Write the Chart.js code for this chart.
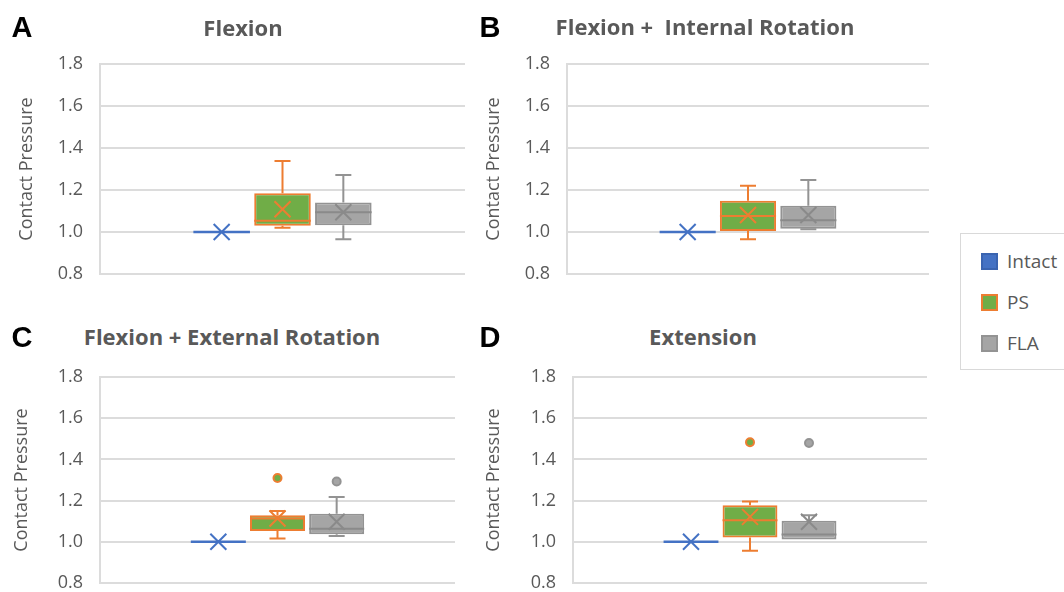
<!DOCTYPE html>
<html>
<head>
<meta charset="utf-8">
<script src="https://cdn.jsdelivr.net/npm/chart.js@4.4.1/dist/chart.umd.min.js"></script>
<style>
  html, body { margin: 0; padding: 0; background: #ffffff; overflow: hidden; }
  body { width: 1064px; height: 592px; position: relative; font-family: "Open Sans", "DejaVu Sans", sans-serif; }
  .panel { position: absolute; }
  .title { position: absolute; transform: translate(-50%, -50%); font-weight: 700; font-size: 22px; color: #595959; white-space: pre; }
  .letter { position: absolute; transform: translate(-50%, -50%); font-family: "Liberation Sans", Arial, sans-serif; font-weight: 700; font-size: 29px; color: #000; }
  #legend { position: absolute; left: 960px; top: 233px; width: 130px; height: 137px; border: 1px solid #d9d9d9; box-sizing: border-box; }
  .item { position: absolute; left: 20px; height: 20px; display: flex; align-items: center; font-size: 19px; color: #595959; }
  .sw { width: 17px; height: 17px; margin-right: 9px; box-sizing: border-box; border: 2px solid; }
</style>
</head>
<body>
<script>
// ---- data ----
const categories = ['Intact', 'PS', 'FLA'];
const panelTitles = ['Flexion', 'Flexion +  Internal Rotation', 'Flexion + External Rotation', 'Extension'];
const panelLetters = ['A', 'B', 'C', 'D'];
const yTicks = [0.8, 1.0, 1.2, 1.4, 1.6, 1.8];
const yAxisTitle = 'Contact Pressure';

const intactMin    = [1.0, 1.0, 1.0, 1.0];
const intactQ1     = [1.0, 1.0, 1.0, 1.0];
const intactMedian = [1.0, 1.0, 1.0, 1.0];
const intactQ3     = [1.0, 1.0, 1.0, 1.0];
const intactMax    = [1.0, 1.0, 1.0, 1.0];
const intactMean   = [1.0, 1.0, 1.0, 1.0];
const intactOutliers = [[], [], [], []];

const psMin    = [1.020, 0.965, 1.016, 0.956];
const psQ1     = [1.030, 1.005, 1.053, 1.021];
const psMedian = [1.054, 1.076, 1.113, 1.105];
const psQ3     = [1.184, 1.149, 1.129, 1.178];
const psMax    = [1.338, 1.220, 1.150, 1.196];
const psMean   = [1.108, 1.081, 1.113, 1.121];
const psOutliers = [[], [], [1.310], [1.483]];

const flaMin    = [0.965, 1.013, 1.028, 1.011];
const flaQ1     = [1.032, 1.016, 1.037, 1.011];
const flaMedian = [1.094, 1.056, 1.063, 1.036];
const flaQ3     = [1.140, 1.125, 1.136, 1.102];
const flaMax    = [1.271, 1.248, 1.217, 1.129];
const flaMean   = [1.094, 1.081, 1.097, 1.097];
const flaOutliers = [[], [], [1.293], [1.480]];

// ---- styles ----
const colIntact = '#4472C4';
const psFill = '#70AD47', psLine = '#ED7D31';
const flaFill = '#A5A5A5', flaLine = '#939393', flaMark = '#8a8a8a';
const textCol = '#595959';
const gridCol = '#dcdcdc';

// layout of each panel: canvas box
const layout = [
  { left: 0,   top: 40,  width: 475, height: 250, titleX: 243, titleY: 27, letterX: 22,  letterY: 27, ytPad: 16 },
  { left: 467, top: 40,  width: 472, height: 250, titleX: 705, titleY: 26, letterX: 490, letterY: 27, ytPad: 16 },
  { left: 0,   top: 353, width: 465, height: 246, titleX: 232, titleY: 336, letterX: 22, letterY: 337, ytPad: 11 },
  { left: 473, top: 353, width: 464, height: 246, titleX: 703, titleY: 336, letterX: 490, letterY: 337, ytPad: 10 }
];

const boxExtras = {
  id: 'boxExtras',
  afterDatasetsDraw(chart) {
    const ctx = chart.ctx;
    const ys = chart.scales.y;
    chart.data.datasets.forEach((ds, i) => {
      const meta = chart.getDatasetMeta(i);
      const bar = meta.data[0];
      if (!bar) return;
      const st = ds.stats;
      const x = bar.x, w = bar.width;
      const yq1 = ys.getPixelForValue(st.q1), yq3 = ys.getPixelForValue(st.q3);
      const ymin = ys.getPixelForValue(st.min), ymax = ys.getPixelForValue(st.max);
      const cap = 8;
      ctx.save();
      ctx.strokeStyle = st.line;
      ctx.lineWidth = 2;
      ctx.lineCap = 'butt';
      // whiskers
      ctx.beginPath();
      if (st.max > st.q3) {
        ctx.moveTo(x, yq3); ctx.lineTo(x, ymax);
        ctx.moveTo(x - cap, ymax); ctx.lineTo(x + cap, ymax);
      }
      if (st.min < st.q1) {
        ctx.moveTo(x, yq1); ctx.lineTo(x, ymin);
        ctx.moveTo(x - cap, ymin); ctx.lineTo(x + cap, ymin);
      }
      ctx.stroke();
      // median
      const ymed = ys.getPixelForValue(st.median);
      ctx.strokeStyle = st.medianCol;
      ctx.lineWidth = st.medianWidth;
      ctx.beginPath();
      ctx.moveTo(x - w / 2, ymed); ctx.lineTo(x + w / 2, ymed);
      ctx.stroke();
      // mean X
      const ymean = ys.getPixelForValue(st.mean);
      const r = 8;
      ctx.strokeStyle = st.markCol;
      ctx.lineWidth = 2;
      ctx.beginPath();
      ctx.moveTo(x - r, ymean - r); ctx.lineTo(x + r, ymean + r);
      ctx.moveTo(x - r, ymean + r); ctx.lineTo(x + r, ymean - r);
      ctx.stroke();
      // outliers
      st.outliers.forEach(v => {
        const yo = ys.getPixelForValue(v);
        ctx.beginPath();
        ctx.arc(x, yo, 4, 0, Math.PI * 2);
        ctx.fillStyle = st.fill;
        ctx.fill();
        ctx.lineWidth = 2;
        ctx.strokeStyle = st.outlierLine;
        ctx.stroke();
      });
      ctx.restore();
    });
  }
};

function makePanel(p) {
  const L = layout[p];
  const div = document.createElement('div');
  div.className = 'panel';
  div.style.left = L.left + 'px';
  div.style.top = L.top + 'px';
  div.style.width = L.width + 'px';
  div.style.height = L.height + 'px';
  const cv = document.createElement('canvas');
  div.appendChild(cv);
  document.body.appendChild(div);

  const t = document.createElement('div');
  t.className = 'title';
  t.style.left = L.titleX + 'px';
  t.style.top = L.titleY + 'px';
  t.textContent = panelTitles[p];
  document.body.appendChild(t);

  const l = document.createElement('div');
  l.className = 'letter';
  l.style.left = L.letterX + 'px';
  l.style.top = L.letterY + 'px';
  l.textContent = panelLetters[p];
  document.body.appendChild(l);

  const datasets = [
    {
      label: categories[0],
      data: [[intactQ1[p], intactQ3[p]]],
      backgroundColor: colIntact, borderColor: colIntact, borderWidth: 0,
      stats: { min: intactMin[p], q1: intactQ1[p], median: intactMedian[p], q3: intactQ3[p], max: intactMax[p], mean: intactMean[p], outliers: intactOutliers[p],
               line: colIntact, medianCol: colIntact, medianWidth: 2.5, markCol: colIntact, fill: colIntact, outlierLine: colIntact }
    },
    {
      label: categories[1],
      data: [[psQ1[p], psQ3[p]]],
      backgroundColor: psFill, borderColor: psLine, borderWidth: 2, borderSkipped: false,
      stats: { min: psMin[p], q1: psQ1[p], median: psMedian[p], q3: psQ3[p], max: psMax[p], mean: psMean[p], outliers: psOutliers[p],
               line: psLine, medianCol: psLine, medianWidth: 2, markCol: psLine, fill: psFill, outlierLine: psLine }
    },
    {
      label: categories[2],
      data: [[flaQ1[p], flaQ3[p]]],
      backgroundColor: flaFill, borderColor: flaLine, borderWidth: 2, borderSkipped: false,
      stats: { min: flaMin[p], q1: flaQ1[p], median: flaMedian[p], q3: flaQ3[p], max: flaMax[p], mean: flaMean[p], outliers: flaOutliers[p],
               line: flaLine, medianCol: flaMark, medianWidth: 2, markCol: flaMark, fill: flaFill, outlierLine: flaLine }
    }
  ];

  new Chart(cv, {
    type: 'bar',
    data: { labels: [''], datasets },
    options: {
      responsive: true,
      maintainAspectRatio: false,
      animation: false,
      categoryPercentage: 0.5,
      barPercentage: 0.93,
      layout: { padding: { left: 0, top: 24, right: 10, bottom: 16 } },
      plugins: { legend: { display: false }, tooltip: { enabled: false }, title: { display: false } },
      scales: {
        x: { display: false },
        y: {
          min: yTicks[0], max: yTicks[yTicks.length - 1],
          afterBuildTicks: s => { s.ticks = yTicks.map(v => ({ value: v })); },
          afterFit: s => { s.width = 100; },
          ticks: { callback: v => Number(v).toFixed(1), color: textCol, padding: 2,
                   font: { family: '"Open Sans"', size: 18 } },
          grid: { color: gridCol, lineWidth: 2, drawTicks: true, tickLength: 15, tickColor: 'rgba(0,0,0,0)' },
          border: { display: true, color: gridCol, width: 2 },
          title: { display: true, text: yAxisTitle, color: textCol,
                   font: { family: '"Open Sans"', size: 18 }, padding: { top: L.ytPad, bottom: 0 } }
        }
      }
    },
    plugins: [boxExtras]
  });
}

for (let p = 0; p < 4; p++) makePanel(p);

// legend
const legendItems = [
  { name: categories[0], fill: colIntact, border: '#3a64b0', y: 17 },
  { name: categories[1], fill: psFill, border: psLine, y: 58 },
  { name: categories[2], fill: flaFill, border: flaLine, y: 99 }
];
const lg = document.createElement('div');
lg.id = 'legend';
legendItems.forEach(it => {
  const d = document.createElement('div');
  d.className = 'item';
  d.style.top = it.y + 'px';
  const s = document.createElement('span');
  s.className = 'sw';
  s.style.background = it.fill;
  s.style.borderColor = it.border;
  d.appendChild(s);
  const tx = document.createElement('span');
  tx.textContent = it.name;
  d.appendChild(tx);
  lg.appendChild(d);
});
document.body.appendChild(lg);
</script>
</body>
</html>
